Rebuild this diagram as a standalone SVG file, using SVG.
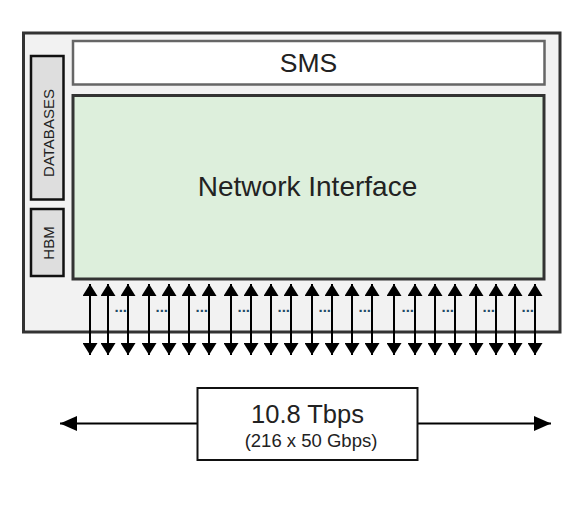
<svg xmlns="http://www.w3.org/2000/svg" width="578" height="526" viewBox="0 0 578 526">
<defs>
<style>
.t{font-family:"Liberation Sans",Arial,sans-serif;fill:#222;}
.dots{font-family:"Liberation Sans",Arial,sans-serif;font-size:15px;fill:#1f4a66;font-weight:bold;text-anchor:end;}
.va{stroke:#000;stroke-width:2;marker-start:url(#vh);marker-end:url(#vh);}
.ha{stroke:#000;stroke-width:2;marker-end:url(#hh);}
</style>
<marker id="vh" markerUnits="userSpaceOnUse" markerWidth="12" markerHeight="15" refX="12" refY="7.5" orient="auto-start-reverse" viewBox="0 0 12 15"><path d="M0,0 L12,7.5 L0,15 z" fill="#000"/></marker>
<marker id="hh" markerUnits="userSpaceOnUse" markerWidth="17" markerHeight="15" refX="17" refY="7.5" orient="auto-start-reverse" viewBox="0 0 17 15"><path d="M0,0 L17,7.5 L0,15 z" fill="#000"/></marker>
</defs>
<rect width="578" height="526" fill="#fff"/>
<g id="chassis">
<rect x="23.5" y="33" width="536.5" height="299" fill="#f2f2f2" stroke="#333" stroke-width="3"/>
</g>
<g id="sms">
<rect x="73" y="41" width="471.5" height="43.5" fill="#fff" stroke="#666" stroke-width="2.5"/>
<text class="t" x="308.5" y="71.5" font-size="26.5" text-anchor="middle">SMS</text>
</g>
<g id="network-interface">
<rect x="73" y="95.5" width="471" height="183.5" fill="#ddefdc" stroke="#333" stroke-width="3"/>
<text class="t" x="307.5" y="196" font-size="28" text-anchor="middle">Network Interface</text>
</g>
<g id="databases">
<rect x="31" y="56" width="32.5" height="143.5" fill="#dedede" stroke="#111" stroke-width="2.5"/>
<text class="t" transform="translate(53.5,133) rotate(-90)" font-size="15" text-anchor="middle">DATABASES</text>
</g>
<g id="hbm">
<rect x="31" y="209" width="32.5" height="67" fill="#dedede" stroke="#111" stroke-width="2.5"/>
<text class="t" transform="translate(53.5,243) rotate(-90)" font-size="15" text-anchor="middle">HBM</text>
</g>
<g id="connectors">
<line class="va" x1="90" y1="284" x2="90" y2="355"/>
<line class="va" x1="108" y1="284" x2="108" y2="355"/>
<line class="va" x1="128" y1="284" x2="128" y2="355"/>
<line class="va" x1="149" y1="284" x2="149" y2="355"/>
<line class="va" x1="169" y1="284" x2="169" y2="355"/>
<line class="va" x1="189" y1="284" x2="189" y2="355"/>
<line class="va" x1="209" y1="284" x2="209" y2="355"/>
<line class="va" x1="231" y1="284" x2="231" y2="355"/>
<line class="va" x1="251" y1="284" x2="251" y2="355"/>
<line class="va" x1="271" y1="284" x2="271" y2="355"/>
<line class="va" x1="291" y1="284" x2="291" y2="355"/>
<line class="va" x1="312" y1="284" x2="312" y2="355"/>
<line class="va" x1="332" y1="284" x2="332" y2="355"/>
<line class="va" x1="352" y1="284" x2="352" y2="355"/>
<line class="va" x1="372" y1="284" x2="372" y2="355"/>
<line class="va" x1="394" y1="284" x2="394" y2="355"/>
<line class="va" x1="415" y1="284" x2="415" y2="355"/>
<line class="va" x1="435" y1="284" x2="435" y2="355"/>
<line class="va" x1="455" y1="284" x2="455" y2="355"/>
<line class="va" x1="476" y1="284" x2="476" y2="355"/>
<line class="va" x1="496" y1="284" x2="496" y2="355"/>
<line class="va" x1="515" y1="284" x2="515" y2="355"/>
<line class="va" x1="535" y1="284" x2="535" y2="355"/>
<line class="ha" x1="197" y1="423.5" x2="60" y2="423.5"/>
<line class="ha" x1="418" y1="423.5" x2="551" y2="423.5"/>
</g>
<g id="ellipses">
<text class="dots" x="127" y="312">...</text>
<text class="dots" x="168" y="312">...</text>
<text class="dots" x="208" y="312">...</text>
<text class="dots" x="250" y="312">...</text>
<text class="dots" x="290" y="312">...</text>
<text class="dots" x="331" y="312">...</text>
<text class="dots" x="371" y="312">...</text>
<text class="dots" x="414" y="312">...</text>
<text class="dots" x="454" y="312">...</text>
<text class="dots" x="495" y="312">...</text>
<text class="dots" x="534" y="312">...</text>
</g>
<g id="throughput">
<rect x="197.5" y="388" width="220" height="72" fill="#fff" stroke="#111" stroke-width="2"/>
<text class="t" x="307.5" y="423" font-size="25.5" text-anchor="middle">10.8 Tbps</text>
<text class="t" x="311" y="447" font-size="18.5" text-anchor="middle">(216 x 50 Gbps)</text>
</g>
</svg>
